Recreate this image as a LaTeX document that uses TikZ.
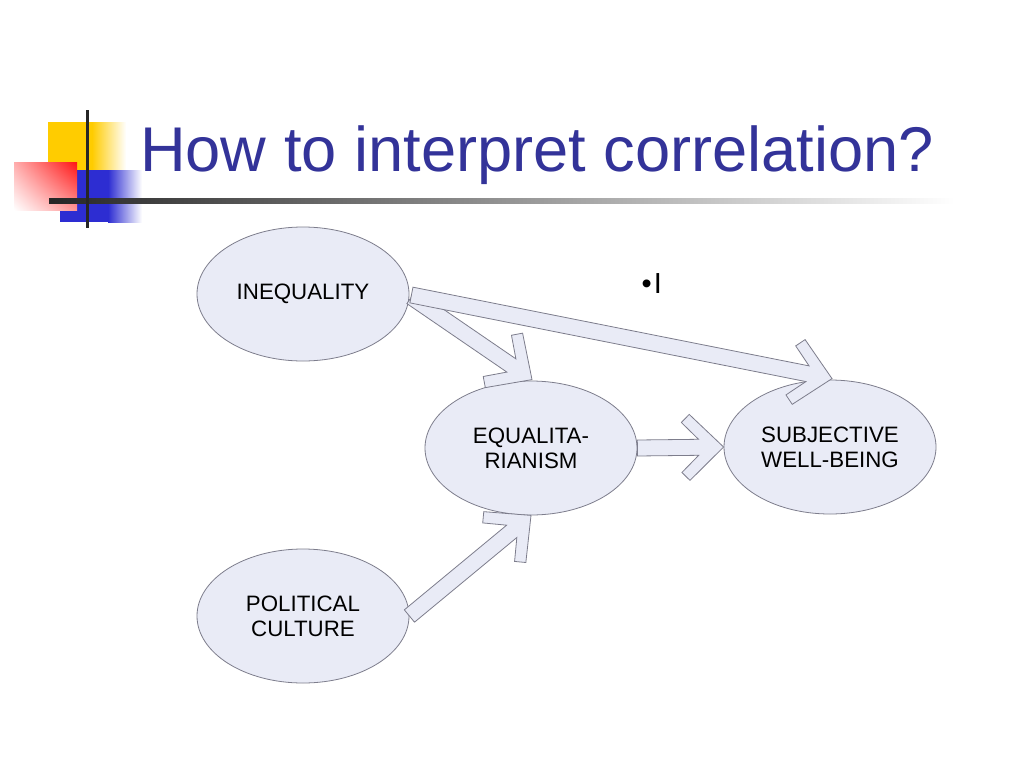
\documentclass[tikz,border=0pt]{standalone}
\usepackage{fontspec}
\setmainfont{Liberation Sans}
\usetikzlibrary{shapes.geometric,calc,shadings}
\definecolor{titleblue}{RGB}{51,51,153}
\definecolor{bubblefill}{RGB}{233,235,246}
\definecolor{edgegray}{RGB}{125,125,140}
\definecolor{decoyellow}{RGB}{255,204,0}
\definecolor{decoblue}{RGB}{45,45,210}
\definecolor{decored}{RGB}{255,20,20}
\newcommand\chevarrow[2]{%
  \path let \p1=($(#2)-(#1)$) in \pgfextra{%
    \pgfmathsetmacro\chevtmpa{atan2(\y1,\x1)}%
    \pgfmathsetmacro\chevtmpl{veclen(\x1,\y1)}%
    \xdef\chevang{\chevtmpa}\xdef\chevlen{\chevtmpl}};
  \filldraw[chevstyle, shift={(#2)}, rotate=\chevang]
    (0,0) -- (-34,33) -- (-42,25) -- (-25,8) -- (-\chevlen,8) --
    (-\chevlen,-8) -- (-25,-8) -- (-42,-25) -- (-34,-33) -- cycle;
}
\begin{document}
\begin{tikzpicture}[x=1pt,y=-1pt,
  bubble/.style={ellipse, draw=edgegray, fill=bubblefill, line width=0.8pt,
    minimum width=212pt, minimum height=134pt, inner sep=0pt, align=center,
    font=\fontsize{22.3}{25}\selectfont},
  chevstyle/.style={draw=edgegray, fill=bubblefill, line width=0.8pt, line join=miter}]
\useasboundingbox[fill=white] (0,0) rectangle (1024,768);

% decoration
\fill[decoyellow] (48,122) rectangle (92,170);
\shade[left color=decoyellow, right color=white] (92,122) rectangle (126,170);
\fill[decoblue] (60,170) rectangle (108,222);
\shade[left color=decoblue, right color=white] (108,170) rectangle (142,222);
\shade[upper left=decored!35, upper right=decored, lower left=white, lower right=decored!45]
  (14,162) rectangle (77,210);
\shade[left color=black!85, right color=white] (49,198.5) rectangle (955,203.5);
\fill[black!85] (85.5,110) rectangle (89,228);

% title
\node[anchor=base west, inner sep=0pt, text=titleblue, font=\fontsize{63.2}{74}\selectfont]
  (title) at (140,171) {How to interpret correlation?};

% bullet text
\node[anchor=base west, inner sep=0pt, font=\fontsize{29}{32}\selectfont]
  (bul) at (641.5,293) {•\hspace{2pt}I};

% bubbles
\node[bubble] (ineq) at (303,294) {INEQUALITY};
\node[bubble] (equal) at (531,448) {EQUALITA-\\RIANISM};
\node[bubble] (subj) at (830,447) {SUBJECTIVE\\WELL-BEING};
\node[bubble] (pol) at (303,616) {POLITICAL\\CULTURE};

% arrows
\coordinate (s1) at ($(ineq.east)+(2,3)$);
\coordinate (t1) at ($(equal.north)+(1,-1)$);
\coordinate (s2) at ($(ineq.east)+(2,1)$);
\coordinate (t2) at ($(subj.north)+(2,-1)$);
\coordinate (s3) at (equal.east);
\coordinate (t3) at (subj.west);
\coordinate (s4) at (pol.east);
\coordinate (t4) at (equal.south);
\chevarrow{s1}{t1}
\chevarrow{s2}{t2}
\chevarrow{s3}{t3}
\chevarrow{s4}{t4}
\end{tikzpicture}
\end{document}
